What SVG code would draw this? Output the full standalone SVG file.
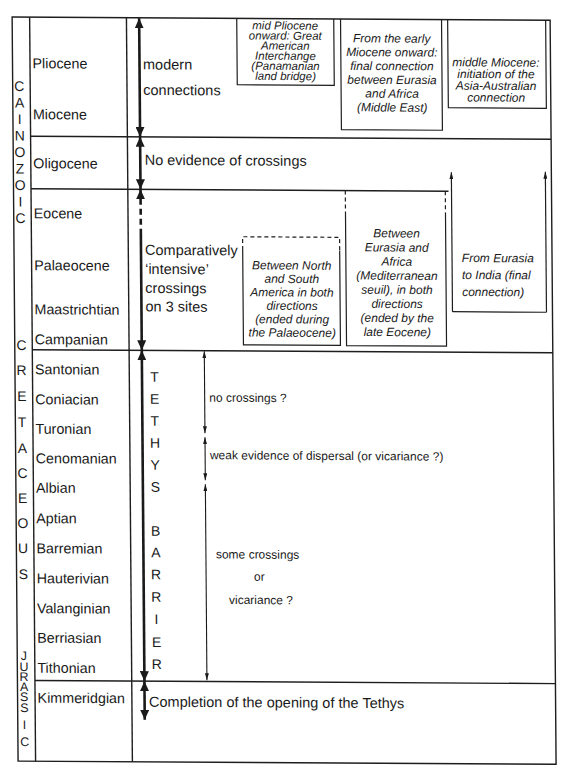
<svg xmlns="http://www.w3.org/2000/svg" width="566" height="773" viewBox="0 0 566 773">
<style>
.ln{stroke:#1e1e1e;stroke-width:1.4;fill:none}
.bx{stroke:#1e1e1e;stroke-width:1.2;fill:none}
.ds{stroke:#1e1e1e;stroke-width:1.2;fill:none;stroke-dasharray:4 3}
.t{font-family:"Liberation Sans",Arial,sans-serif;fill:#1a1a1a}
.st{font-size:14.3px}
.era{font-size:14px;text-anchor:middle}
.big{font-size:14.5px}
.sm{font-size:12px}
.it{font-size:12px;font-style:italic;text-anchor:middle}
.thick{stroke:#1a1a1a;stroke-width:2.6;fill:none}
.thin{stroke:#1a1a1a;stroke-width:1.1;fill:none}
</style>
<defs>
<marker id="ah" markerUnits="userSpaceOnUse" viewBox="0 0 10 9" refX="10" refY="4.5" markerWidth="10" markerHeight="9" orient="auto-start-reverse"><path d="M0,0 L10,4.5 L0,9 z" fill="#1a1a1a"/></marker>
<marker id="as" markerUnits="userSpaceOnUse" viewBox="0 0 7 4" refX="7" refY="2" markerWidth="7" markerHeight="4" orient="auto-start-reverse"><path d="M0,0 L7,2 L0,4 z" fill="#1a1a1a"/></marker>
</defs>
<rect x="0" y="0" width="566" height="773" fill="#ffffff"/>
<g transform="matrix(1 0.006 0.008 1 0 0)">
<g id="grid">
<rect class="ln" x="12" y="17" width="538" height="744"/>
<line class="ln" x1="29.5" y1="17" x2="29.5" y2="761"/>
<line class="ln" x1="126.3" y1="17" x2="126.3" y2="761"/>
<line class="ln" x1="29.5" y1="136" x2="550" y2="136"/>
<line class="ln" x1="29.5" y1="188.5" x2="447" y2="188.5"/>
<line class="ln" x1="29.5" y1="349.5" x2="550" y2="349.5"/>
<line class="ln" x1="29.5" y1="680.3" x2="550" y2="680.3"/>
</g>
<g id="eras" class="t era">
<text id="cainozoic"><tspan x="18.7" y="91">C</tspan><tspan x="18.7" y="107.5">A</tspan><tspan x="18.7" y="124">I</tspan><tspan x="18.7" y="140.5">N</tspan><tspan x="18.7" y="157">O</tspan><tspan x="18.7" y="173.5">Z</tspan><tspan x="18.7" y="190">O</tspan><tspan x="18.7" y="206.5">I</tspan><tspan x="18.7" y="223">C</tspan></text>
<text id="cretaceous"><tspan x="18.7" y="350">C</tspan><tspan x="18.7" y="375">R</tspan><tspan x="18.7" y="401">E</tspan><tspan x="18.7" y="427">T</tspan><tspan x="18.7" y="453">A</tspan><tspan x="18.7" y="478">C</tspan><tspan x="18.7" y="503">E</tspan><tspan x="18.7" y="528">O</tspan><tspan x="18.7" y="553">U</tspan><tspan x="18.7" y="579">S</tspan></text>
<text id="jurassic" style="font-size:12.5px"><tspan x="18.7" y="660">J</tspan><tspan x="18.7" y="671">U</tspan><tspan x="18.7" y="681">R</tspan><tspan x="18.7" y="691">A</tspan><tspan x="18.7" y="701">S</tspan><tspan x="18.7" y="712">S</tspan><tspan x="18.7" y="729">I</tspan><tspan x="18.7" y="746">C</tspan></text>
</g>
<g id="stages" class="t st">
<text x="32" y="68">Pliocene</text>
<text x="32" y="119">Miocene</text>
<text x="32" y="168">Oligocene</text>
<text x="32" y="218">Eocene</text>
<text x="32" y="270">Palaeocene</text>
<text x="32" y="314">Maastrichtian</text>
<text x="32" y="344">Campanian</text>
<text x="32" y="374">Santonian</text>
<text x="32" y="404">Coniacian</text>
<text x="32" y="433.5">Turonian</text>
<text x="32" y="463">Cenomanian</text>
<text x="32" y="492.5">Albian</text>
<text x="32" y="523">Aptian</text>
<text x="32" y="553">Barremian</text>
<text x="32" y="583">Hauterivian</text>
<text x="32" y="613">Valanginian</text>
<text x="32" y="642.5">Berriasian</text>
<text x="32" y="672.5">Tithonian</text>
<text x="32" y="702.5">Kimmeridgian</text>
</g>
<g id="connectors">
<line class="thick" x1="139" y1="17.5" x2="139" y2="136" marker-start="url(#ah)" marker-end="url(#ah)"/>
<line class="thick" x1="139" y1="136" x2="139" y2="188.5" marker-start="url(#ah)" marker-end="url(#ah)"/>
<line class="thick" x1="139" y1="198" x2="139" y2="188.5" marker-end="url(#ah)"/>
<line class="thick" x1="139" y1="198" x2="139" y2="228" stroke-dasharray="6 4"/>
<line class="thick" x1="139" y1="228" x2="139" y2="349.5" marker-end="url(#ah)"/>
<line class="thick" x1="139" y1="349.5" x2="139" y2="680.3" marker-start="url(#ah)" marker-end="url(#ah)"/>
<line class="thick" x1="139" y1="680.3" x2="139" y2="719" marker-start="url(#ah)" marker-end="url(#ah)"/>
<line class="thin" x1="201.5" y1="350" x2="201.5" y2="432" marker-start="url(#as)" marker-end="url(#as)"/>
<line class="thin" x1="201.5" y1="436" x2="201.5" y2="479" marker-start="url(#as)" marker-end="url(#as)"/>
<line class="thin" x1="201.5" y1="483" x2="201.5" y2="679" marker-start="url(#as)" marker-end="url(#as)"/>
</g>
<g id="col3" class="t big">
<text x="142.5" y="68.5">modern</text>
<text x="142.5" y="94">connections</text>
<text x="143.4" y="164">No evidence of crossings</text>
<text x="143" y="254">Comparatively</text>
<text x="143" y="273">‘intensive’</text>
<text x="143" y="292">crossings</text>
<text x="143" y="310.5">on 3 sites</text>
<text x="143.4" y="705.8">Completion of the opening of the Tethys</text>
</g>
<g id="tethys-barrier" class="t era">
<text><tspan x="151.5" y="381">T</tspan><tspan x="151.5" y="403">E</tspan><tspan x="151.5" y="425">T</tspan><tspan x="151.5" y="447">H</tspan><tspan x="151.5" y="469">Y</tspan><tspan x="151.5" y="491">S</tspan><tspan x="151.5" y="535">B</tspan><tspan x="151.5" y="556.5">A</tspan><tspan x="151.5" y="578.5">R</tspan><tspan x="151.5" y="601">R</tspan><tspan x="151.5" y="623">I</tspan><tspan x="151.5" y="646">E</tspan><tspan x="151.5" y="668">R</tspan></text>
</g>
<g id="thin-labels" class="t sm">
<text x="206.1" y="400.4">no crossings ?</text>
<text x="206.3" y="458">weak evidence of dispersal (or vicariance ?)</text>
<text x="211.5" y="557.1">some crossings</text>
<text x="249.4" y="579.2">or</text>
<text x="224.2" y="602.6">vicariance ?</text>
</g>
<g id="box-pliocene">
<path class="bx" d="M236.6,17 V83.3 H333.6 V17"/>
<text class="t it" style="font-size:11.5px"><tspan x="285" y="27.8">mid Pliocene</tspan><tspan x="285" y="37.9">onward: Great</tspan><tspan x="285" y="48">American</tspan><tspan x="285" y="58.1">Interchange</tspan><tspan x="285" y="68.2">(Panamanian</tspan><tspan x="285" y="78.3">land bridge)</tspan></text>
</g>
<g id="box-miocene">
<path class="bx" d="M340.4,17 V127.6 H441.4 V17"/>
<text class="t it"><tspan x="391.4" y="40.2">From the early</tspan><tspan x="391.4" y="54">Miocene onward:</tspan><tspan x="391.4" y="67.8">final connection</tspan><tspan x="391.4" y="81.6">between Eurasia</tspan><tspan x="391.4" y="95.4">and Africa</tspan><tspan x="391.4" y="109.2">(Middle East)</tspan></text>
</g>
<g id="box-asia-australia">
<path class="bx" d="M447.5,17 V105 H545.5 V17"/>
<text class="t it"><tspan x="495.4" y="63.5">middle Miocene:</tspan><tspan x="495.4" y="75.2">initiation of the</tspan><tspan x="495.4" y="86.9">Asia-Australian</tspan><tspan x="495.4" y="98.6">connection</tspan></text>
</g>
<g id="box-americas">
<path class="ds" d="M240.7,248.5 V235.3 H337.7 V248.5"/>
<path class="bx" d="M240.7,248.5 V343.4 H337.7 V248.5"/>
<text class="t it"><tspan x="289.6" y="267.8">Between North</tspan><tspan x="289.6" y="281.2">and South</tspan><tspan x="289.6" y="294.7">America in both</tspan><tspan x="289.6" y="308.1">directions</tspan><tspan x="289.6" y="321.6">(ended during</tspan><tspan x="289.6" y="335">the Palaeocene)</tspan></text>
</g>
<g id="box-eurasia-africa">
<path class="ds" d="M343.8,188.5 V210 M443.8,188.5 V210"/>
<path class="bx" d="M343.8,210 V343.5 H443.8 V210"/>
<text class="t it"><tspan x="394.7" y="235.1">Between</tspan><tspan x="394.7" y="249.2">Eurasia and</tspan><tspan x="394.7" y="263.3">Africa</tspan><tspan x="394.7" y="277.4">(Mediterranean</tspan><tspan x="394.7" y="291.5">seuil), in both</tspan><tspan x="394.7" y="305.6">directions</tspan><tspan x="394.7" y="319.7">(ended by the</tspan><tspan x="394.7" y="333.8">late Eocene)</tspan></text>
</g>
<g id="box-india">
<line class="bx" x1="450" y1="309" x2="450" y2="169.5" marker-end="url(#as)"/>
<line class="bx" x1="544" y1="309" x2="544" y2="168.5" marker-end="url(#as)"/>
<line class="bx" x1="450" y1="309" x2="544" y2="309"/>
<text class="t sm" font-style="italic"><tspan x="459.8" y="259.2">From Eurasia</tspan><tspan x="459.8" y="276.2">to India (final</tspan><tspan x="459.8" y="293.2">connection)</tspan></text>
</g>
</g>
</svg>
